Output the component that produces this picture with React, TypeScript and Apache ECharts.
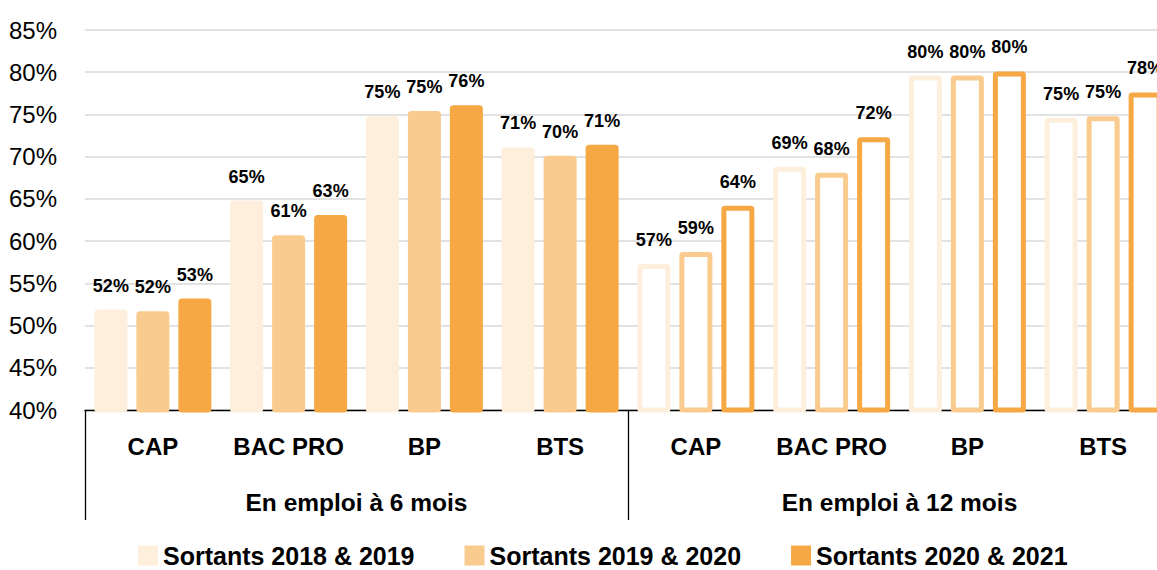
import React, { useEffect, useRef } from "react";
import * as echarts from "echarts";

const categories = ["CAP", "BAC PRO", "BP", "BTS", "CAP", "BAC PRO", "BP", "BTS"];
const groups = ["En emploi à 6 mois", "En emploi à 12 mois"];
const seriesNames = ["Sortants 2018 & 2019", "Sortants 2019 & 2020", "Sortants 2020 & 2021"];
const sortants2018 = [51.9, 64.8, 74.8, 71.1, 57.3, 68.8, 79.6, 74.6];
const sortants2019 = [51.7, 60.7, 75.4, 70.1, 58.7, 68.1, 79.6, 74.8];
const sortants2020 = [53.2, 63.1, 76.1, 71.4, 64.2, 72.3, 80.1, 77.6];
const seriesValues = [sortants2018, sortants2019, sortants2020];
const colors = ["#FDEFDB", "#F9CB8F", "#F5A844"];
const yMin = 40;
const yMax = 85;
const yStep = 5;

const FONT = "'Liberation Sans Narrow', 'Arial Narrow', 'Liberation Sans', Arial, sans-serif";

export default function App() {
  const ref = useRef<HTMLDivElement>(null);
  useEffect(() => {
    if (!ref.current) return;
    const chart = echarts.init(ref.current, undefined, { renderer: "svg" });
    const perGroup = categories.length / groups.length;
    const series = seriesValues.map((vals, si) => ({
      name: seriesNames[si],
      type: "bar",
      xAxisIndex: 0,
      barWidth: 33,
      barGap: "27.27%",
      itemStyle: { color: colors[si], borderColor: colors[si], borderWidth: 5, borderRadius: 1 },
      label: {
        show: true,
        position: "top",
        distance: 15,
        fontFamily: FONT,
        fontWeight: "bold",
        fontSize: 18,
        color: "#000",
        formatter: (p: any) => Math.round(p.value) + "%",
      },
      data: vals.map((v, i) =>
        i >= perGroup
          ? { value: v, itemStyle: { color: "#ffffff", borderColor: colors[si], borderWidth: 5 } }
          : { value: v }
      ),
    }));
    chart.setOption({
      animation: false,
      grid: { left: 85, right: 1, top: 30, bottom: 160, containLabel: false },
      legend: {
        data: seriesNames,
        left: 138,
        top: 543,
        padding: 0,
        icon: "rect",
        itemWidth: 20,
        itemHeight: 20,
        itemGap: 50,
        itemStyle: { borderWidth: 0 },
        textStyle: { fontFamily: FONT, fontWeight: "bold", fontSize: 25, lineHeight: 22, color: "#000" },
      },
      xAxis: [
        {
          type: "category",
          data: categories,
          position: "bottom",
          axisLine: { show: true, lineStyle: { color: "#000", width: 1.3 } },
          axisTick: { show: false },
          axisLabel: {
            interval: 0,
            margin: 24,
            fontFamily: FONT,
            fontWeight: "bold",
            fontSize: 24,
            color: "#000",
          },
        },
        {
          type: "category",
          data: groups,
          position: "bottom",
          axisLine: { show: false },
          axisTick: { show: true, length: 110, interval: 0, lineStyle: { color: "#000", width: 1.3 } },
          axisLabel: {
            interval: 0,
            margin: 80,
            fontFamily: FONT,
            fontWeight: "bold",
            fontSize: 24.5,
            color: "#000",
          },
        },
      ],
      yAxis: {
        type: "value",
        min: yMin,
        max: yMax,
        interval: yStep,
        axisLine: { show: false },
        axisTick: { show: false },
        splitLine: { lineStyle: { color: "#d9d9d9", width: 1.5 } },
        axisLabel: {
          margin: 28,
          fontFamily: FONT,
          fontSize: 24,
          color: "#000",
          formatter: "{value}%",
        },
      },
      series,
    });
    return () => chart.dispose();
  }, []);
  return (
    <div style={{ position: "fixed", left: 0, top: 0, width: 1157, height: 570, overflow: "hidden", background: "#fff" }}>
      <div ref={ref} style={{ width: 1172, height: 570 }} />
    </div>
  );
}
